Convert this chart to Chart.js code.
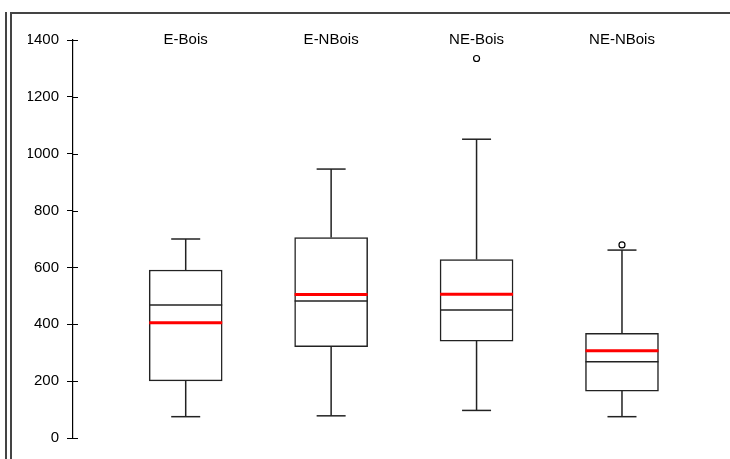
<!DOCTYPE html>
<html>
<head>
<meta charset="utf-8">
<script src="https://cdn.jsdelivr.net/npm/chart.js@4/dist/chart.umd.min.js"></script>
<style>
  html, body { margin: 0; padding: 0; background: #fff; }
  #wrap { position: relative; width: 730px; height: 459px; overflow: hidden; }
  #rule { position: absolute; left: 5px; top: 12px; bottom: -5px; border-left: 2px solid #444; }
  #frame { position: absolute; left: 10px; top: 12px; right: -5px; bottom: -5px;
           border-left: 2px solid #444; border-top: 2px solid #444; }
  canvas { position: absolute; left: 0; top: 0; }
</style>
</head>
<body>
<div id="wrap">
  <div id="rule"></div>
  <div id="frame"></div>
  <canvas id="c" width="730" height="459"></canvas>
</div>
<script>
// Group names and their five-number summaries, means and outliers
const categories   = ['E-Bois', 'E-NBois', 'NE-Bois', 'NE-NBois'];
const whiskerLow   = [75, 78, 97, 75];
const quartile1    = [201, 321, 341, 165];
const medians      = [468, 482, 450, 268];
const quartile3    = [591, 705, 628, 368];
const whiskerHigh  = [700, 946, 1051, 661];
const means        = [405, 505, 506, 307];
const outlierGroup = [3, 4];
const outlierValue = [1335, 679];
const yTicks       = [0, 200, 400, 600, 800, 1000, 1200, 1400];

const FONT = "'Liberation Sans', Arial, Helvetica, sans-serif";
const INK = '#222';

const pos = categories.map((_, i) => i + 1);

// vertical whisker stems, split into separate segments by gaps
const stemData = [];
pos.forEach((x, i) => {
  stemData.push({ x, y: whiskerLow[i] }, { x, y: quartile1[i] }, { x, y: null });
  stemData.push({ x, y: quartile3[i] }, { x, y: whiskerHigh[i] }, { x, y: null });
});
const capData = [];
pos.forEach((x, i) => { capData.push({ x, y: whiskerLow[i] }, { x, y: whiskerHigh[i] }); });

const boxData    = pos.map((x, i) => ({ x, y: [quartile1[i], quartile3[i]] }));
const medianData = pos.map((x, i) => ({ x, y: medians[i] }));
const meanData   = pos.map((x, i) => ({ x, y: means[i] }));
const outlierData = outlierGroup.map((g, i) => ({ x: g, y: outlierValue[i] }));

// group names written across the top of the plot
const groupLabels = {
  id: 'groupLabels',
  afterDraw(chart) {
    const { ctx, scales: { x } } = chart;
    ctx.save();
    ctx.fillStyle = '#000';
    ctx.font = '15px ' + FONT;
    ctx.textAlign = 'center';
    ctx.textBaseline = 'alphabetic';
    categories.forEach((name, i) => ctx.fillText(name, x.getPixelForValue(pos[i]), 44));
    ctx.restore();
  }
};

// short tick stubs on the inner side of the value axis
const innerTicks = {
  id: 'innerTicks',
  afterDraw(chart) {
    const { ctx, scales: { y }, chartArea } = chart;
    ctx.save();
    ctx.strokeStyle = '#000';
    ctx.lineWidth = 1;
    yTicks.forEach(v => {
      const py = Math.round(y.getPixelForValue(v)) + 0.5;
      ctx.beginPath();
      ctx.moveTo(chartArea.left, py);
      ctx.lineTo(chartArea.left + 5, py);
      ctx.stroke();
    });
    ctx.restore();
  }
};

new Chart(document.getElementById('c'), {
  type: 'bar',
  data: {
    datasets: [
      { type: 'bar', data: boxData, order: 5, barThickness: 73,
        backgroundColor: '#fff', borderColor: INK, borderWidth: 1.5, borderSkipped: false },
      { type: 'line', data: stemData, order: 4, borderColor: INK, borderWidth: 1.5,
        pointRadius: 0, spanGaps: false, tension: 0 },
      { type: 'line', data: capData, order: 3, showLine: false, pointStyle: 'line',
        pointRadius: 14.5, pointBorderColor: INK, pointBorderWidth: 1.5 },
      { type: 'line', data: medianData, order: 2, showLine: false, pointStyle: 'line',
        pointRadius: 36.5, pointBorderColor: INK, pointBorderWidth: 1.5 },
      { type: 'line', data: meanData, order: 1, showLine: false, pointStyle: 'line',
        pointRadius: 36.5, pointBorderColor: '#f00', pointBorderWidth: 3 },
      { type: 'line', data: outlierData, order: 0, showLine: false, pointStyle: 'circle',
        pointRadius: 3, pointBackgroundColor: '#fff', pointBorderColor: '#000', pointBorderWidth: 1.2 }
    ]
  },
  options: {
    responsive: false,
    animation: false,
    events: [],
    layout: { autoPadding: false, padding: { left: 28, top: 40, bottom: 21, right: 10 } },
    plugins: { legend: { display: false }, tooltip: { enabled: false } },
    scales: {
      x: { type: 'linear', display: false, min: 0.225, max: 4.674, offset: false },
      y: {
        min: 0, max: 1400,
        afterFit(scale) { scale.width = 45; },
        afterBuildTicks(scale) { scale.ticks = yTicks.map(v => ({ value: v })); },
        ticks: { color: '#000', padding: 8, font: { family: FONT, size: 15 },
                 callback: v => String(v) },
        grid: { drawOnChartArea: false, drawTicks: true, tickLength: 6, color: '#000', lineWidth: 1 },
        border: { display: true, color: '#000', width: 1.2 }
      }
    }
  },
  plugins: [groupLabels, innerTicks]
});
</script>
</body>
</html>
